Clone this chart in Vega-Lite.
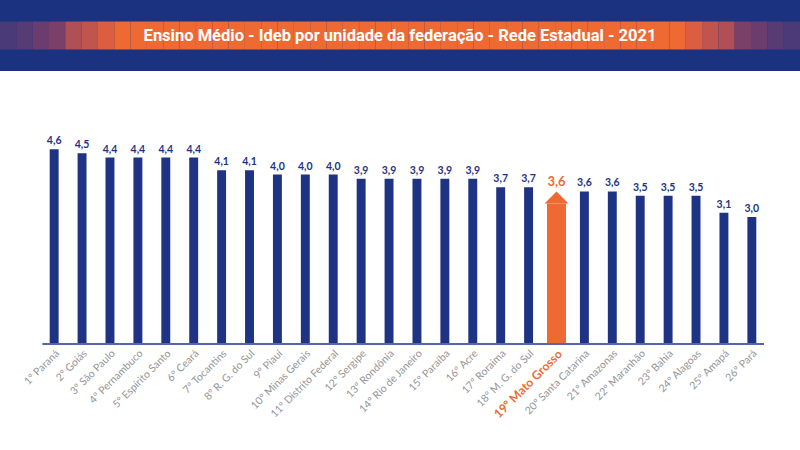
{
  "$schema": "https://vega.github.io/schema/vega-lite/v6.json",
  "padding": 0,
  "background": "white",
  "spacing": 40,
  "config": {
    "view": {"stroke": null},
    "locale": {"number": {"decimal": ",", "thousands": ".", "grouping": [3], "currency": ["R$", ""]}}
  },
  "datasets": {
    "faixa": [
      {"seg": 1, "tom": "c1", "faixa": "meio"}, {"seg": 2, "tom": "c2", "faixa": "meio"}, {"seg": 3, "tom": "c3", "faixa": "meio"},
      {"seg": 4, "tom": "c4", "faixa": "meio"}, {"seg": 5, "tom": "c5", "faixa": "meio"}, {"seg": 6, "tom": "c6", "faixa": "meio"},
      {"seg": 7, "tom": "c7", "faixa": "meio"},
      {"seg": 8, "tom": "c8", "faixa": "meio"}, {"seg": 9, "tom": "c8", "faixa": "meio"}, {"seg": 10, "tom": "c8", "faixa": "meio"},
      {"seg": 11, "tom": "c8", "faixa": "meio"}, {"seg": 12, "tom": "c8", "faixa": "meio"}, {"seg": 13, "tom": "c8", "faixa": "meio"},
      {"seg": 14, "tom": "c8", "faixa": "meio"}, {"seg": 15, "tom": "c8", "faixa": "meio"}, {"seg": 16, "tom": "c8", "faixa": "meio"},
      {"seg": 17, "tom": "c8", "faixa": "meio"}, {"seg": 18, "tom": "c8", "faixa": "meio"}, {"seg": 19, "tom": "c8", "faixa": "meio"},
      {"seg": 20, "tom": "c8", "faixa": "meio"}, {"seg": 21, "tom": "c8", "faixa": "meio"}, {"seg": 22, "tom": "c8", "faixa": "meio"},
      {"seg": 23, "tom": "c8", "faixa": "meio"}, {"seg": 24, "tom": "c8", "faixa": "meio"}, {"seg": 25, "tom": "c8", "faixa": "meio"},
      {"seg": 26, "tom": "c8", "faixa": "meio"}, {"seg": 27, "tom": "c8", "faixa": "meio"}, {"seg": 28, "tom": "c8", "faixa": "meio"},
      {"seg": 29, "tom": "c8", "faixa": "meio"}, {"seg": 30, "tom": "c8", "faixa": "meio"}, {"seg": 31, "tom": "c8", "faixa": "meio"},
      {"seg": 32, "tom": "c8", "faixa": "meio"}, {"seg": 33, "tom": "c8", "faixa": "meio"}, {"seg": 34, "tom": "c8", "faixa": "meio"},
      {"seg": 35, "tom": "c8", "faixa": "meio"}, {"seg": 36, "tom": "c8", "faixa": "meio"}, {"seg": 37, "tom": "c8", "faixa": "meio"},
      {"seg": 38, "tom": "c8", "faixa": "meio"}, {"seg": 39, "tom": "c8", "faixa": "meio"}, {"seg": 40, "tom": "c8", "faixa": "meio"},
      {"seg": 41, "tom": "c8", "faixa": "meio"}, {"seg": 42, "tom": "c8", "faixa": "meio"},
      {"seg": 43, "tom": "c7", "faixa": "meio"}, {"seg": 44, "tom": "c6", "faixa": "meio"}, {"seg": 45, "tom": "c5", "faixa": "meio"},
      {"seg": 46, "tom": "c4", "faixa": "meio"}, {"seg": 47, "tom": "c3", "faixa": "meio"}, {"seg": 48, "tom": "c2", "faixa": "meio"},
      {"seg": 49, "tom": "c1", "faixa": "meio"}
    ],
    "titulo": [{"texto": "Ensino Médio - Ideb por unidade da federação - Rede Estadual - 2021", "faixa": "meio"}],
    "ideb": [
      {"rotulo": "1º Paraná", "uf": "Paraná", "ideb": 4.6},
      {"rotulo": "2º Goiás", "uf": "Goiás", "ideb": 4.5},
      {"rotulo": "3º São Paulo", "uf": "São Paulo", "ideb": 4.4},
      {"rotulo": "4º Pernambuco", "uf": "Pernambuco", "ideb": 4.4},
      {"rotulo": "5º Espírito Santo", "uf": "Espírito Santo", "ideb": 4.4},
      {"rotulo": "6º Ceará", "uf": "Ceará", "ideb": 4.4},
      {"rotulo": "7º Tocantins", "uf": "Tocantins", "ideb": 4.1},
      {"rotulo": "8º R. G. do Sul", "uf": "Rio Grande do Sul", "ideb": 4.1},
      {"rotulo": "9º Piauí", "uf": "Piauí", "ideb": 4.0},
      {"rotulo": "10º Minas Gerais", "uf": "Minas Gerais", "ideb": 4.0},
      {"rotulo": "11º Distrito Federal", "uf": "Distrito Federal", "ideb": 4.0},
      {"rotulo": "12º Sergipe", "uf": "Sergipe", "ideb": 3.9},
      {"rotulo": "13º Rondônia", "uf": "Rondônia", "ideb": 3.9},
      {"rotulo": "14º Rio de Janeiro", "uf": "Rio de Janeiro", "ideb": 3.9},
      {"rotulo": "15º Paraíba", "uf": "Paraíba", "ideb": 3.9},
      {"rotulo": "16º Acre", "uf": "Acre", "ideb": 3.9},
      {"rotulo": "17º Roraima", "uf": "Roraima", "ideb": 3.7},
      {"rotulo": "18º M. G. do Sul", "uf": "Mato Grosso do Sul", "ideb": 3.7},
      {"rotulo": "19º Mato Grosso", "uf": "Mato Grosso", "ideb": 3.6},
      {"rotulo": "20º Santa Catarina", "uf": "Santa Catarina", "ideb": 3.6},
      {"rotulo": "21º Amazonas", "uf": "Amazonas", "ideb": 3.6},
      {"rotulo": "22º Maranhão", "uf": "Maranhão", "ideb": 3.5},
      {"rotulo": "23º Bahia", "uf": "Bahia", "ideb": 3.5},
      {"rotulo": "24º Alagoas", "uf": "Alagoas", "ideb": 3.5},
      {"rotulo": "25º Amapá", "uf": "Amapá", "ideb": 3.1},
      {"rotulo": "26º Pará", "uf": "Pará", "ideb": 3.0}
    ]
  },
  "vconcat": [
    {
      "width": 800,
      "height": 71,
      "view": {"fill": "#1b3281", "stroke": null},
      "layer": [
        {
          "data": {"name": "faixa"},
          "mark": {"type": "rect", "strokeWidth": 0},
          "encoding": {
            "x": {"field": "seg", "type": "ordinal", "sort": null, "scale": {"paddingInner": 0, "paddingOuter": 0}, "axis": null},
            "y": {"field": "faixa", "type": "nominal", "scale": {"paddingInner": 0, "paddingOuter": 0.77}, "axis": null},
            "color": {
              "field": "tom", "type": "nominal", "legend": null,
              "scale": {
                "domain": ["c1", "c2", "c3", "c4", "c5", "c6", "c7", "c8"],
                "range": ["#4a3a78", "#573c74", "#6a3d6e", "#7a4068", "#b04f56", "#c0544f", "#dc5e40", "#ef6a32"]
              }
            }
          }
        },
        {
          "data": {"name": "titulo"},
          "mark": {"type": "text", "font": "Roboto", "fontWeight": "bold", "fontSize": 16.5, "color": "white", "align": "center", "baseline": "middle"},
          "encoding": {
            "y": {"field": "faixa", "type": "nominal", "axis": null},
            "text": {"field": "texto"}
          }
        }
      ]
    },
    {
      "width": 800,
      "height": 233,
      "data": {"name": "ideb"},
      "encoding": {
        "x": {
          "field": "rotulo", "type": "nominal", "sort": null,
          "scale": {
            "domain": ["1º Paraná", "2º Goiás", "3º São Paulo", "4º Pernambuco", "5º Espírito Santo", "6º Ceará", "7º Tocantins", "8º R. G. do Sul", "9º Piauí", "10º Minas Gerais", "11º Distrito Federal", "12º Sergipe", "13º Rondônia", "14º Rio de Janeiro", "15º Paraíba", "16º Acre", "17º Roraima", "18º M. G. do Sul", "19º Mato Grosso", "20º Santa Catarina", "21º Amazonas", "22º Maranhão", "23º Bahia", "24º Alagoas", "25º Amapá", "26º Pará"],
            "range": [43, 763],
            "paddingInner": 0.68, "paddingOuter": 0.24
          },
          "axis": {
            "title": null, "labelAngle": -45, "ticks": false, "labelPadding": 4, "domain": false,
            "labelFont": "Lato",
            "labelFontSize": {"condition": {"test": "datum.value == '19º Mato Grosso'", "value": 12}, "value": 10.5},
            "labelFontWeight": {"condition": {"test": "datum.value == '19º Mato Grosso'", "value": "bold"}, "value": "normal"},
            "labelColor": {"condition": {"test": "datum.value == '19º Mato Grosso'", "value": "#ef6a32"}, "value": "#959595"}
          }
        },
        "y": {"field": "ideb", "type": "quantitative", "scale": {"domain": [0, 5.5], "nice": false}, "axis": null}
      },
      "layer": [
        {
          "transform": [{"filter": "datum.uf != 'Mato Grosso'"}],
          "layer": [
            {"mark": {"type": "bar", "color": "#1f3384"}},
            {
              "mark": {"type": "text", "font": "Lato", "fontWeight": "bold", "fontSize": 10.5, "color": "#1f3384", "baseline": "bottom", "dy": -3},
              "encoding": {"text": {"field": "ideb", "type": "quantitative", "format": ".1f"}}
            }
          ]
        },
        {
          "transform": [{"filter": "datum.uf == 'Mato Grosso'"}],
          "layer": [
            {
              "mark": {"type": "bar", "color": "#ef6a32", "width": 19, "yOffset": 12, "y2Offset": 0},
              "encoding": {"y2": {"datum": 0}}
            },
            {"mark": {"type": "point", "shape": "M0,-0.5L1,0.5L-1,0.5Z", "size": 576, "filled": true, "color": "#ef6a32", "opacity": 1, "strokeWidth": 0, "yOffset": 6}},
            {
              "mark": {"type": "text", "font": "Lato", "fontWeight": "bold", "fontSize": 13, "color": "#ef6a32", "baseline": "bottom", "dy": -2},
              "encoding": {"text": {"field": "ideb", "type": "quantitative", "format": ".1f"}}
            }
          ]
        },
        {
          "mark": {"type": "rule", "color": "#5468a8", "strokeWidth": 2, "xOffset": -11.2, "x2Offset": 11.3},
          "encoding": {
            "x": {"datum": "1º Paraná", "type": "nominal"},
            "x2": {"datum": "26º Pará"},
            "y": {"datum": 0, "type": "quantitative"}
          }
        }
      ]
    }
  ]
}
